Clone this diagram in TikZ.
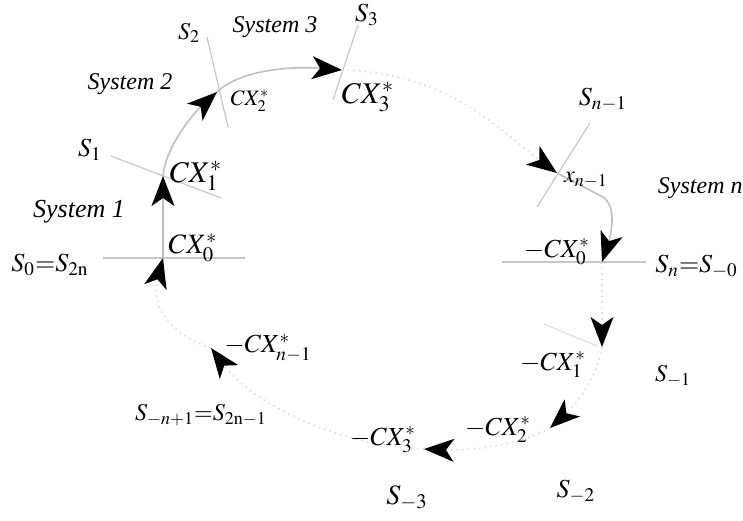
\documentclass[tikz,border=0pt]{standalone}
\usepackage{mathptmx}
\usepackage[no-math]{fontspec}
\setmainfont{Liberation Serif}
\usetikzlibrary{arrows.meta,positioning,calc}

\begin{document}
\begin{tikzpicture}[x=0.5pt,y=-0.5pt,
  lab/.style={inner sep=0pt,font=\fontsize{13}{15}\selectfont},
  big/.style={inner sep=0pt,font=\fontsize{15}{17}\selectfont},
  small/.style={inner sep=0pt,font=\fontsize{10.5}{12}\selectfont},
  sys/.style={inner sep=0pt,font=\fontsize{12}{14}\selectfont\itshape},
  cut/.style={draw=black!22,line width=0.6pt},
  flow/.style={draw=black!25,line width=0.8pt,
    -{Stealth[length=15pt,width=11.5pt,inset=4pt,black]}},
  faint/.style={flow,draw=black!13,dotted}]
  \useasboundingbox (0,0) rectangle (743,520);
  \coordinate (p0) at (163,258);
  \coordinate (p1) at (163,176);
  \coordinate (p2) at (217,92);
  \coordinate (p3) at (342,70);
  \coordinate (pn1) at (557,173);
  \coordinate (bend) at (603,197);
  \coordinate (pn) at (602,262);
  \coordinate (m1) at (602,347);
  \coordinate (m2) at (550,428);
  \coordinate (m3) at (424,449);
  \coordinate (mn1) at (211,348);
  \draw[cut] ($(p0)+(-60,0)$) -- ($(p0)+(82,0)$);
  \draw[cut] ($(p1)+(-52,-20)$) -- ($(p1)+(58,22)$);
  \draw[cut] ($(p2)+(-10,-55)$) -- ($(p2)+(11,35)$);
  \draw[cut] ($(p3)+(16,-45)$) -- ($(p3)+(-9,30)$);
  \draw[cut] ($(pn1)+(33,-50)$) -- ($(pn1)+(-20,34)$);
  \draw[cut] ($(pn)+(-100,0)$) -- ($(pn)+(44,0)$);
  \draw[cut,draw=black!12] ($(m1)+(-58,-23)$) -- ($(m1)+(-5,-1)$);
  \draw[flow] (p0) -- (p1);
  \draw[flow] (p1) .. controls (166,145) and (195,112) .. (p2);
  \draw[flow] (p2) .. controls (240,70) and (290,66) .. (p3);
  \draw[faint] (p3) .. controls (450,72) and (505,135) .. (pn1);
  \draw[flow] (pn1) -- (bend) .. controls (618,207) and (610,238) .. (pn);
  \draw[faint] (pn) -- (m1);
  \draw[faint] (m1) .. controls (595,385) and (570,410) .. (m2);
  \draw[faint] (m2) .. controls (520,445) and (470,451) .. (m3);
  \draw[faint] (m3) .. controls (330,445) and (250,400) .. (mn1);
  \draw[faint] (mn1) .. controls (160,330) and (152,300) .. (p0);
  \node[sys] (sys3) at (275,27) {System 3};
  \node[sys] (sys2) at (130,84) {System 2};
  \node[sys,font=\fontsize{13}{15}\selectfont\itshape] (sys1) at (79,212) {System 1};
  \node[sys,anchor=east] (sysn) at (743,188) {System n};
  \node[lab] (s3) at (367,15) {$S_{3}$};
  \node[lab,font=\fontsize{12}{14}\selectfont] (s2) at (189,33) {$S_{2}$};
  \node[lab] (s1) at (90,150) {$S_{1}$};
  \node[lab] (s0) at (50,265) {$S_{0}{=}S_{2\mathrm{n}}$};
  \node[lab,font=\fontsize{11}{13}\selectfont] (cx2) at (250,101) {$CX_{2}^{*}$};
  \node[big] (cx3) at (368,97) {$CX_{3}^{*}$};
  \node[big] (cx1) at (196,176) {$CX_{1}^{*}$};
  \node[lab,font=\fontsize{14}{16}\selectfont] (cx0) at (193,248) {$CX_{0}^{*}$};
  \node[lab] (sn1) at (603,100) {$S_{n-1}$};
  \node[small,font=\fontsize{12}{14}\selectfont] (xn1) at (586,180) {$x_{n-1}$};
  \node[lab] (mcx0) at (557,252) {$-CX_{0}^{*}$};
  \node[lab,anchor=west] (sn) at (655,267) {$S_{n}{=}S_{-0}$};
  \node[lab] (mcx1) at (553,365) {$-CX_{1}^{*}$};
  \node[lab,font=\fontsize{12}{14}\selectfont] (sm1) at (673,376) {$S_{-1}$};
  \node[lab] (mcx2) at (498,430) {$-CX_{2}^{*}$};
  \node[lab] (mcx3) at (383,440) {$-CX_{3}^{*}$};
  \node[lab,font=\fontsize{14}{16}\selectfont] (sm3) at (407,498) {$S_{-3}$};
  \node[lab] (sm2) at (576,492) {$S_{-2}$};
  \node[lab] (mcxn1) at (268,348) {$-CX_{n-1}^{*}$};
  \node[lab,font=\fontsize{12}{14}\selectfont] (smn1) at (201,415) {$S_{-n+1}{=}S_{2\mathrm{n}-1}$};
\end{tikzpicture}
\end{document}
